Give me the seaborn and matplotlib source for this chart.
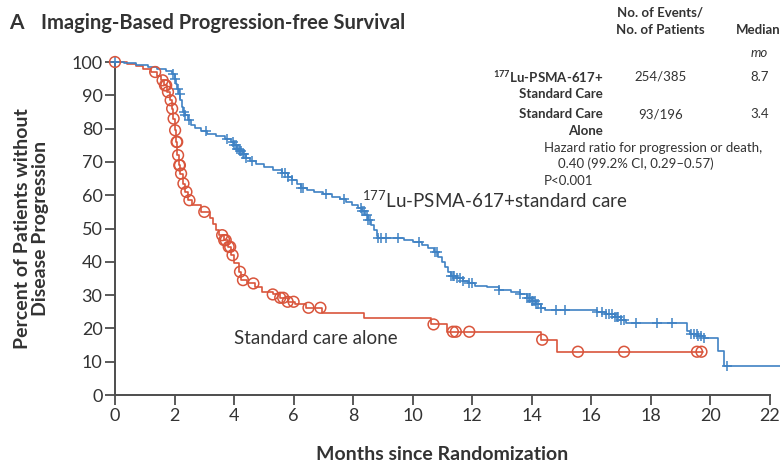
import numpy as np
import pandas as pd
import matplotlib
matplotlib.use("Agg")
import matplotlib.pyplot as plt
import seaborn as sns

# Kaplan-Meier step curves: time (months) and percent without progression after each step
lu_time = [0, 0.3, 0.7, 1.1, 1.4, 1.7, 1.9, 2.0, 2.05, 2.1, 2.15, 2.2, 2.25, 2.3, 2.35,
           2.45, 2.55, 2.7, 2.9, 3.1, 3.4, 3.7, 3.9, 4.0, 4.1, 4.2, 4.3, 4.4, 4.55, 4.75,
           5.0, 5.3, 5.6, 5.8, 5.95, 6.1, 6.25, 6.45, 6.7, 7.0, 7.3, 7.55, 7.75, 7.95,
           8.15, 8.3, 8.4, 8.5, 8.6, 8.7, 8.8, 8.85, 9.7, 10.0, 10.3, 10.5, 10.7, 10.85,
           11.0, 11.1, 11.2, 11.3, 11.5, 11.7, 11.9, 12.1, 12.5, 12.9, 13.3, 13.6, 13.85,
           14.0, 14.15, 14.3, 14.45, 16.2, 16.5, 16.8, 17.0, 17.15, 19.2, 19.3, 19.6,
           19.8, 20.25, 20.45, 22.4]
lu_surv = [100, 99.7, 99.2, 98.6, 98.0, 97.2, 96.5, 95.0, 93.5, 92.0, 90.5, 88.5, 86.5, 85.0, 84.0,
           82.5, 81.0, 80.2, 79.3, 78.5, 77.7, 77.0, 76.0, 75.0, 74.0, 73.2, 72.3, 71.3, 70.3, 69.5,
           68.6, 67.7, 66.6, 65.5, 64.5, 63.5, 62.3, 61.6, 60.9, 60.3, 59.5, 58.8, 58.0, 57.2,
           56.3, 55.2, 54.0, 52.5, 51.2, 49.5, 47.8, 47.2, 46.5, 45.8, 45.0, 44.0, 43.0, 41.5,
           40.0, 38.5, 37.0, 35.8, 35.0, 34.2, 33.5, 32.8, 32.3, 31.5, 30.8, 30.2, 29.2,
           28.2, 27.2, 26.2, 25.6, 25.0, 24.3, 23.4, 22.5, 21.7, 19.3, 18.4, 17.8,
           17.2, 13.3, 8.7, 8.7]
lu_censor = [0, 1.95, 2.0, 2.12, 2.17, 2.32, 2.36, 2.5, 3.05, 3.75, 3.95, 4.0, 4.05, 4.1, 4.15,
             4.2, 4.25, 4.3, 4.35, 4.4, 4.6, 5.6, 5.7, 5.8, 5.95, 6.25, 6.3, 7.1, 7.7, 8.25,
             8.3, 8.35, 8.45, 8.5, 8.55, 8.85, 8.95, 9.1, 9.5, 10.2, 10.75, 10.8, 11.3, 11.35,
             11.4, 11.5, 11.6, 11.7, 11.9, 12.0, 12.9, 13.6, 13.85, 13.9, 13.95, 14.0, 14.05,
             14.1, 14.15, 14.2, 14.3, 14.8, 15.1, 16.2, 16.35, 16.5, 16.6, 16.7, 16.8, 16.85,
             16.9, 17.0, 17.1, 17.5, 18.2, 18.7, 19.35, 19.45, 19.55, 19.6, 19.7, 19.8, 20.55]

soc_time = [0, 0.4, 0.7, 0.95, 1.2, 1.4, 1.55, 1.65, 1.75, 1.85, 1.9, 1.95, 2.0, 2.05, 2.1,
            2.15, 2.2, 2.28, 2.35, 2.45, 2.6, 2.9, 3.2, 3.3, 3.4, 3.5, 3.65, 3.8, 3.9, 4.0,
            4.15, 4.25, 4.45, 4.7, 4.95, 5.3, 5.55, 5.8, 6.05, 6.4, 6.95, 8.35, 10.6, 11.15,
            14.3, 14.85, 19.75]
soc_surv = [100, 99.4, 98.8, 98.0, 97.0, 95.8, 94.5, 93.0, 91.0, 88.5, 86.0, 83.0, 79.5, 76.0, 72.0,
            69.0, 66.5, 63.5, 61.0, 58.5, 57.0, 55.0, 53.3, 51.5, 49.5, 48.0, 46.5, 44.5, 42.0, 39.5,
            37.0, 34.5, 33.5, 32.5, 31.0, 30.2, 29.2, 28.0, 27.2, 26.2, 24.5, 23.0, 21.2, 19.0,
            16.6, 13.0, 13.0]
soc_censor = [0, 1.35, 1.6, 1.68, 1.72, 1.78, 1.87, 1.92, 1.97, 2.02, 2.07, 2.09, 2.12, 2.16,
              2.18, 2.22, 2.3, 2.4, 2.5, 3.0, 3.6, 3.67, 3.72, 3.82, 3.87, 3.95, 4.2, 4.3, 4.65,
              5.3, 5.55, 5.65, 5.8, 6.0, 6.5, 6.9, 10.7, 11.35, 11.45, 11.9, 14.35, 15.55,
              17.1, 19.55, 19.7]

x_ticks = list(range(0, 23, 2))
y_ticks = list(range(0, 101, 10))

BLUE = "#3f82c4"
RED = "#d9553c"
AXIS = "#4d4d4d"
TEXT = "#333333"


def step_value(times, surv, at):
    idx = np.searchsorted(np.asarray(times), np.asarray(at), side="right") - 1
    return np.asarray(surv)[idx]


curves = pd.concat([
    pd.DataFrame({"month": lu_time, "pct": lu_surv, "arm": "lu"}),
    pd.DataFrame({"month": soc_time, "pct": soc_surv, "arm": "soc"}),
])
lu_marks = pd.DataFrame({"month": lu_censor, "pct": step_value(lu_time, lu_surv, lu_censor)})
soc_marks = pd.DataFrame({"month": soc_censor, "pct": step_value(soc_time, soc_surv, soc_censor)})

sns.set_theme(style="white")
plt.rcParams["font.family"] = ["Lato", "DejaVu Sans"]
plt.rcParams["mathtext.fontset"] = "custom"
plt.rcParams["mathtext.rm"] = "Lato"

fig = plt.figure(figsize=(7.8, 4.62), dpi=100)
ax = fig.add_axes([0.1474, 0.145, 0.8397, 0.7208])

sns.lineplot(data=curves[curves.arm == "soc"], x="month", y="pct", color=RED,
             drawstyle="steps-post", estimator=None, sort=False, lw=1.2, ax=ax, clip_on=False)
sns.lineplot(data=curves[curves.arm == "lu"], x="month", y="pct", color=BLUE,
             drawstyle="steps-post", estimator=None, sort=False, lw=1.2, ax=ax, clip_on=False)
sns.scatterplot(data=lu_marks, x="month", y="pct", marker="+", s=55, color=BLUE,
                linewidth=1.1, ax=ax, clip_on=False, zorder=4)
sns.scatterplot(data=soc_marks, x="month", y="pct", marker="o", s=60, facecolor="none",
                edgecolor=RED, linewidth=1.1, ax=ax, clip_on=False, zorder=5)

ax.set_xlim(0, 22)
ax.set_ylim(0, 100)
ax.set_xticks(x_ticks)
ax.set_yticks(y_ticks)
ax.set_xticklabels([str(v) for v in x_ticks], fontsize=13, color=TEXT)
ax.set_yticklabels([str(v) for v in y_ticks], fontsize=13, color=TEXT)
for side in ("top", "right"):
    ax.spines[side].set_visible(False)
for side in ("left", "bottom"):
    ax.spines[side].set_color(AXIS)
    ax.spines[side].set_linewidth(1.4)
ax.spines["left"].set_bounds(0, 100)
ax.spines["bottom"].set_bounds(0, 22)
ax.tick_params(axis="both", direction="out", length=7, width=1.3, color=AXIS, pad=2,
               left=True, bottom=True)

ax.set_xlabel("Months since Randomization", fontsize=14, fontweight="bold", color=TEXT, labelpad=16)
ax.set_ylabel("Percent of Patients without\nDisease Progression", fontsize=14,
              fontweight="bold", color=TEXT, labelpad=16, linespacing=1.1)

ax.text(8.3, 56.3, r"$^{\mathregular{177}}$Lu-PSMA-617+standard care", fontsize=13.5,
        color=TEXT, va="baseline")
ax.text(4.0, 17.0, "Standard care alone", fontsize=13.5, color=TEXT, va="center")

# Panel title
fig.text(0.012, 0.950, "A", fontsize=15, fontweight="bold", color=TEXT, va="center")
fig.text(0.053, 0.950, "Imaging-Based Progression-free Survival", fontsize=14.5,
         fontweight="bold", color=TEXT, va="center")

# Summary table
hdr = dict(fontsize=9.5, fontweight="bold", color=TEXT, va="center")
reg = dict(fontsize=9.5, color=TEXT, va="center")
fig.text(0.846, 0.974, "No. of Events/", ha="center", **hdr)
fig.text(0.846, 0.935, "No. of Patients", ha="center", **hdr)
fig.text(0.944, 0.935, "Median", ha="left", **hdr)
fig.text(0.962, 0.885, "mo", ha="left", fontsize=9.5, style="italic", color=TEXT, va="center")
fig.text(0.773, 0.834, r"$^{\mathregular{177}}$Lu-PSMA-617+", ha="right", **hdr)
fig.text(0.773, 0.797, "Standard Care", ha="right", **hdr)
fig.text(0.773, 0.753, "Standard Care", ha="right", **hdr)
fig.text(0.773, 0.716, "Alone", ha="right", **hdr)
fig.text(0.847, 0.834, "254/385", ha="center", **reg)
fig.text(0.847, 0.753, "93/196", ha="center", **reg)
fig.text(0.986, 0.834, "8.7", ha="right", **reg)
fig.text(0.986, 0.753, "3.4", ha="right", **reg)
fig.text(0.697, 0.679, "Hazard ratio for progression or death,", ha="left", **reg)
fig.text(0.715, 0.646, "0.40 (99.2% CI, 0.29\u20130.57)", ha="left", **reg)
fig.text(0.697, 0.608, "P<0.001", ha="left", **reg)

fig.savefig("out.png", dpi=100)
